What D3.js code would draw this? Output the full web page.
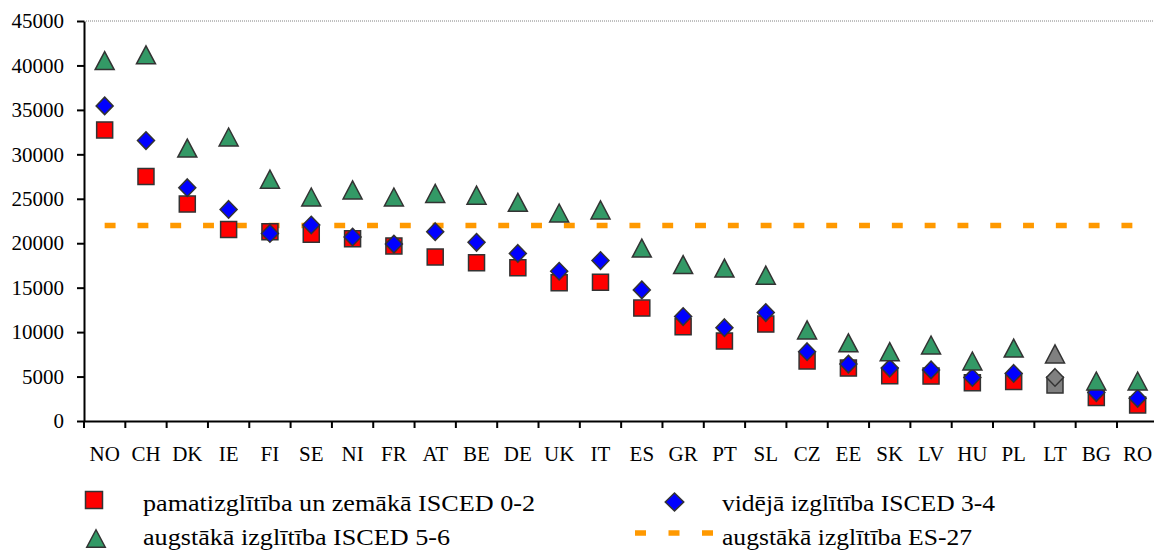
<!DOCTYPE html>
<html>
<head>
<meta charset="utf-8">
<script src="https://cdn.jsdelivr.net/npm/d3@7"></script>
<style>
  html, body { margin: 0; padding: 0; background: #fff; }
  svg { display: block; }
  text { font-family: "Liberation Serif", "Times New Roman", serif; fill: #000; }
</style>
</head>
<body>
<svg id="chart" width="1154" height="550"></svg>
<script>
// ---- data ----
const categories = ["NO","CH","DK","IE","FI","SE","NI","FR","AT","BE","DE","UK","IT","ES","GR","PT","SL","CZ","EE","SK","LV","HU","PL","LT","BG","RO"];
const basicEdu     = [32750, 27500, 24400, 21550, 21300, 21000, 20500, 19700, 18450, 17800, 17250, 15550, 15600, 12700, 10600, 9000, 10900, 6750, 5950, 5100, 5050, 4300, 4450, 4050, 2650, 1800];
const secondaryEdu = [35450, 31550, 26250, 23800, 21100, 22050, 20700, 19900, 21300, 20100, 18850, 16850, 18050, 14750, 11750, 10500, 12200, 7800, 6400, 5950, 5750, 4900, 5350, 4900, 3200, 2550];
const tertiaryEdu  = [40550, 41200, 30700, 31950, 27200, 25200, 26000, 25200, 25600, 25400, 24600, 23400, 23750, 19450, 17600, 17200, 16400, 10250, 8800, 7800, 8550, 6750, 8200, 7550, 4500, 4500];
const euTertiary = 22000;
const greyCategories = ["LT"];
const yTicks = [0, 5000, 10000, 15000, 20000, 25000, 30000, 35000, 40000, 45000];
const legendLabels = [
  "pamatizglītība un zemākā ISCED 0-2",
  "vidējā izglītība ISCED 3-4",
  "augstākā izglītība ISCED 5-6",
  "augstākā izglītība ES-27"
];

// ---- layout ----
const svg = d3.select("#chart");
const plotLeft = 84, plotRight = 1158.3, plotTop = 21, plotBottom = 421;
const x = d3.scaleBand().domain(categories).range([plotLeft, plotRight]).padding(0);
const y = d3.scaleLinear().domain([0, 45000]).range([plotBottom, plotTop]);
const cx = c => x(c) + x.bandwidth() / 2;

const colors = { basic: "#FF0000", secondary: "#0000FF", tertiary: "#339966", grey: "#808080", eu: "#FF9900" };
const stroke = "#333333";

// marker path generators
function squarePath(s) { const h = s / 2; const p = d3.path(); p.moveTo(-h, -h); p.lineTo(h, -h); p.lineTo(h, h); p.lineTo(-h, h); p.closePath(); return p.toString(); }
function diamondPath(w, hgt) { const p = d3.path(); p.moveTo(0, -hgt / 2); p.lineTo(w / 2, 0); p.lineTo(0, hgt / 2); p.lineTo(-w / 2, 0); p.closePath(); return p.toString(); }
function trianglePath(w, hgt) { const p = d3.path(); p.moveTo(0, -hgt / 2); p.lineTo(w / 2, hgt / 2); p.lineTo(-w / 2, hgt / 2); p.closePath(); return p.toString(); }

// top plot border (dotted)
svg.append("line")
  .attr("x1", plotLeft).attr("x2", plotRight).attr("y1", y(45000)).attr("y2", y(45000))
  .attr("stroke", "#808080").attr("stroke-width", 1).attr("stroke-dasharray", "1 1");

// EU line
const euLine = d3.line().x(c => cx(c)).y(() => y(euTertiary));
svg.append("path")
  .attr("d", euLine(categories))
  .attr("fill", "none").attr("stroke", colors.eu).attr("stroke-width", 5.5)
  .attr("stroke-dasharray", "10.9 21.9");

// series
function drawSeries(values, pathStr, fill) {
  svg.append("g").selectAll("path")
    .data(categories.map((c, i) => ({ c, v: values[i] })))
    .join("path")
    .attr("d", pathStr)
    .attr("transform", d => `translate(${cx(d.c)},${y(d.v)})`)
    .attr("fill", d => greyCategories.includes(d.c) ? colors.grey : fill)
    .attr("stroke", stroke).attr("stroke-width", 1.5);
}
drawSeries(basicEdu, squarePath(16), colors.basic);
drawSeries(secondaryEdu, diamondPath(17, 17.5), colors.secondary);
drawSeries(tertiaryEdu, trianglePath(19, 18), colors.tertiary);

// y axis
const yAxis = svg.append("g").attr("transform", `translate(${plotLeft},0)`)
  .call(d3.axisLeft(y).tickValues(yTicks).tickFormat(d3.format("d")).tickSize(7).tickSizeOuter(0).tickPadding(13));
yAxis.selectAll("path, line").attr("stroke", "#000").attr("stroke-width", 2);
yAxis.selectAll("text").style("font-size", "21px").style("font-family", "'Liberation Serif', serif").attr("fill", "#000");

// x axis (labels at centers, ticks at band edges)
const xAxis = svg.append("g").attr("transform", `translate(0,${plotBottom})`)
  .call(d3.axisBottom(x).tickSize(0).tickSizeOuter(0).tickPadding(25));
xAxis.selectAll("path").attr("stroke", "#000").attr("stroke-width", 2);
xAxis.selectAll("text").style("font-size", "21px").style("font-family", "'Liberation Serif', serif").attr("fill", "#000");
svg.append("g").selectAll("line")
  .data(categories)
  .join("line")
  .attr("x1", c => x(c)).attr("x2", c => x(c))
  .attr("y1", plotBottom).attr("y2", plotBottom + 7)
  .attr("stroke", "#000").attr("stroke-width", 2);

// legend
const lg = svg.append("g");
const legendFont = 22.5;
const row1 = 511, row2 = 544.5;
lg.append("path").attr("d", squarePath(17)).attr("transform", "translate(94,500)")
  .attr("fill", colors.basic).attr("stroke", stroke).attr("stroke-width", 1.5);
lg.append("text").attr("x", 143).attr("y", row1).style("font-size", legendFont + "px")
  .attr("textLength", 392).attr("lengthAdjust", "spacingAndGlyphs").text(legendLabels[0]);

lg.append("path").attr("d", trianglePath(18.5, 17.5)).attr("transform", "translate(96,538.5)")
  .attr("fill", colors.tertiary).attr("stroke", stroke).attr("stroke-width", 1.5);
lg.append("text").attr("x", 143).attr("y", row2).style("font-size", legendFont + "px")
  .attr("textLength", 307).attr("lengthAdjust", "spacingAndGlyphs").text(legendLabels[2]);

lg.append("path").attr("d", diamondPath(18.5, 18)).attr("transform", "translate(674.5,502)")
  .attr("fill", colors.secondary).attr("stroke", stroke).attr("stroke-width", 1.5);
lg.append("text").attr("x", 722).attr("y", row1).style("font-size", legendFont + "px")
  .attr("textLength", 273).attr("lengthAdjust", "spacingAndGlyphs").text(legendLabels[1]);

lg.append("line").attr("x1", 635).attr("x2", 714).attr("y1", 533).attr("y2", 533)
  .attr("stroke", colors.eu).attr("stroke-width", 5.5).attr("stroke-dasharray", "11 22.5");
lg.append("text").attr("x", 722).attr("y", row2).style("font-size", legendFont + "px")
  .attr("textLength", 250).attr("lengthAdjust", "spacingAndGlyphs").text(legendLabels[3]);
</script>
</body>
</html>
